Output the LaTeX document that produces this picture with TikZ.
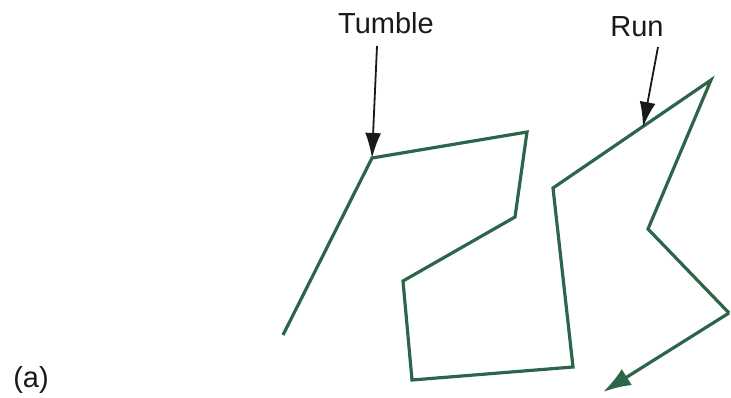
\documentclass[tikz,border=0pt]{standalone}
\usepackage{fontspec}
\setmainfont{Liberation Sans}
\usetikzlibrary{arrows.meta}
\definecolor{pathgreen}{HTML}{2C6549}
\tikzset{
  walk/.style={draw=pathgreen, line width=3.2pt, line join=miter, line cap=butt},
  lbl/.style={font=\fontsize{29}{30}\selectfont, inner sep=0pt, text=black!90},
  pointer/.style={draw=black!90, line width=1.8pt, -{Latex[length=25pt,width=16pt]}}
}
\begin{document}
\begin{tikzpicture}[x=1pt,y=-1pt]
\useasboundingbox (0,0) rectangle (731,397);
% vertices of the path
\coordinate (p0) at (283,335);
\coordinate (p1) at (372,158);
\coordinate (p2) at (527,132);
\coordinate (p3) at (515,217);
\coordinate (p4) at (403,281);
\coordinate (p5) at (412,380);
\coordinate (p6) at (573,367);
\coordinate (p7) at (553,188);
\coordinate (p8) at (711,80);
\coordinate (p9) at (648,229);
\coordinate (p10) at (729,313);
\coordinate (p11) at (603,392);
\coordinate (runtip) at (643,127);
\coordinate (ts) at (377,46);
\coordinate (rs) at (658,47);
% labels
\node[lbl] (tumble) at (386,23) {Tumble};
\node[lbl] (run) at (637,27) {Run};
\node[lbl] (a) at (31,380) {(a)};
% path
\draw[walk] (p0) -- (p1) -- (p2) -- (p3) -- (p4) -- (p5) -- (p6) -- (p7) -- (p8) -- (p9) -- (p10);
\draw[walk, -{Latex[length=28pt,width=19pt]}] (p10) -- (p11);
% pointers
\draw[pointer] (ts) -- (p1);
\draw[pointer] (rs) -- (runtip);
\end{tikzpicture}
\end{document}
